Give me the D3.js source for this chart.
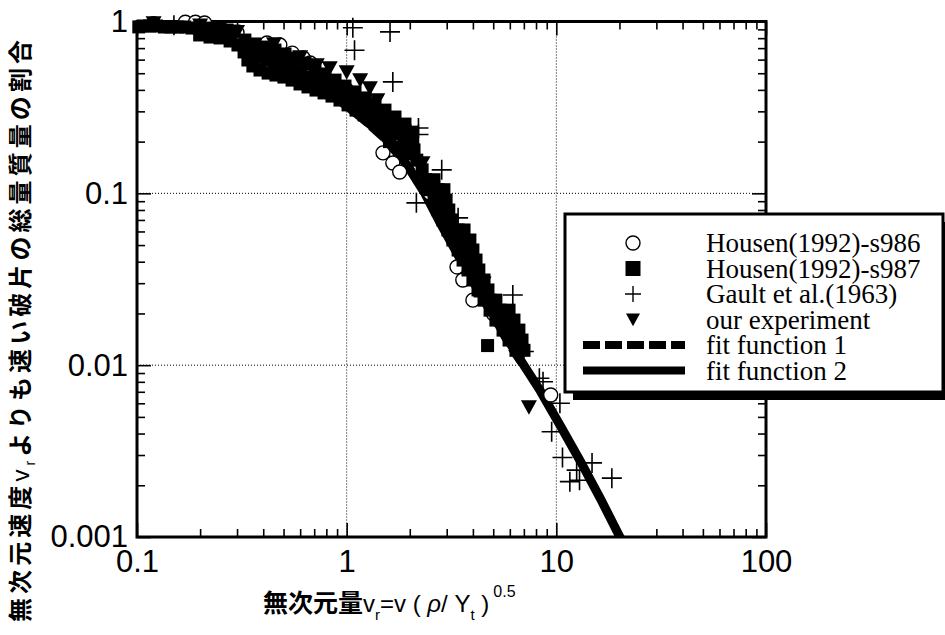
<!DOCTYPE html>
<html>
<head>
<meta charset="utf-8">
<script src="https://cdn.jsdelivr.net/npm/d3@7"></script>
<style>
body { margin: 0; background: #fff; }
</style>
</head>
<body>
<div id="chart"></div>
<script>
//-----------------------------DATA-----------------------------//
// [v_r, fraction of mass faster than v_r]
const housen986 = [
    [0.17,0.99],[0.19,0.99],[0.21,0.98],[0.12,0.97],[0.3,0.86],
    [0.417,0.75],[0.48,0.73],[0.55,0.655],[0.62,0.613],[0.67,0.573],[0.75,0.53],
    [1.0,0.40],[1.49,0.172],[1.66,0.150],[1.79,0.133],[2.5,0.10],
    [3.36,0.0373],[3.58,0.0313],[4.0,0.0239],[5.0,0.020],[9.4,0.0067]
];
const housen987 = [
    [0.102,0.93],[0.107,0.942],[0.115,0.942],[0.124,0.942],[0.135,0.929],[0.145,0.929],[0.157,0.929],
    [0.169,0.929],[0.183,0.916],[0.198,0.916],[0.213,0.916],[0.230,0.904],[0.249,0.904],[0.269,0.892],[0.290,0.880],
    [0.199,0.835],[0.223,0.812],[0.249,0.802],[0.278,0.770],[0.303,0.730],[0.324,0.665],[0.338,0.597],
    [0.357,0.551],[0.386,0.522],[0.422,0.501],[0.460,0.488],[0.502,0.475],
    [0.345,0.656],[0.377,0.621],[0.413,0.597],[0.450,0.573],[0.492,0.558],[0.536,0.540],
    [0.327,0.780],[0.365,0.740],[0.408,0.710],[0.455,0.682],[0.508,0.647],[0.567,0.613],[0.633,0.573],
    [0.706,0.536],[0.788,0.495],[0.880,0.456],[0.982,0.421],[1.096,0.389],[1.223,0.359],[1.365,0.331],
    [1.523,0.305],[1.700,0.278],[1.897,0.253],[2.05,0.227],
    [0.6,0.51],[0.7,0.468],[0.8,0.433],[0.9,0.405],[1.0,0.374],[1.1,0.344],[1.25,0.314],[1.4,0.29],
    [1.55,0.267],[1.7,0.249],[1.9,0.231],
    [0.549,0.456],[0.599,0.433],[0.654,0.416],[0.714,0.399],[0.780,0.384],[0.851,0.368],[0.929,0.349],
    [1.015,0.327],[1.108,0.305],[1.210,0.286],[1.321,0.267],[1.442,0.250],[1.574,0.234],[1.719,0.221],
    [1.877,0.210],[2.05,0.199],[1.6,0.20],[1.8,0.185],[2.0,0.17],
    [2.05,0.204],[2.095,0.179],[2.16,0.156],[2.29,0.137],
    [2.39,0.120],[2.61,0.120],[2.50,0.105],[2.73,0.105],[2.91,0.105],
    [2.61,0.0914],[2.98,0.0914],[2.73,0.080],[3.07,0.080],[2.88,0.070],[3.18,0.070],
    [3.04,0.0612],[3.40,0.0612],[3.63,0.0612],[3.21,0.0535],[3.55,0.0535],[3.87,0.0535],
    [3.40,0.0468],[3.71,0.0468],[4.0,0.0468],[3.59,0.0409],[3.87,0.0409],[4.14,0.0409],
    [3.79,0.0358],[4.05,0.0358],[4.27,0.0358],[4.0,0.0313],[4.23,0.0313],[4.52,0.0313],
    [4.23,0.0274],[4.48,0.0274],[4.72,0.0274],[4.52,0.0239],[4.83,0.0239],[5.15,0.0239],
    [4.83,0.0209],[5.39,0.0209],[5.95,0.0209],[5.15,0.0183],[5.69,0.0183],[6.28,0.0183],
    [5.57,0.016],[6.07,0.016],[6.63,0.016],[5.95,0.014],[6.49,0.014],[6.86,0.014],
    [6.42,0.0122],[7.01,0.0122],
    [4.7,0.013]
];
const gault = [
    [0.15,0.95],[0.5,0.6],
    [1.07,0.92],[1.61,0.87],[1.09,0.68],[1.66,0.445],[2.2,0.24],[2.2,0.22],[2.84,0.137],
    [2.15,0.088],[3.4,0.072],[4.5,0.025],[6.2,0.0256],[7.0,0.012],[8.3,0.0084],[8.64,0.0080],
    [10.4,0.0060],[9.5,0.0041],[10.7,0.0029],[12.5,0.00245],[11.6,0.0021],[12.9,0.00214],
    [14.8,0.0027],[18.4,0.0022]
];
const ourExperiment = [
    [0.12,0.98],[0.2,0.95],[0.3,0.87],[0.45,0.74],[0.6,0.62],[0.72,0.558],[0.83,0.536],[1.0,0.508],
    [1.16,0.456],[1.29,0.41],[1.40,0.349],[1.49,0.293],[1.61,0.267],[1.74,0.240],[1.86,0.218],
    [2.0,0.199],[2.3,0.15],[2.8,0.09],[3.5,0.05],[4.5,0.03],[5.5,0.02],[6.5,0.015],[7.4,0.0057]
];
const fit1 = [
    [0.1,1.0],[0.2,0.93],[0.4,0.72],[0.7,0.46],[1.0,0.33],[1.5,0.21],[2.0,0.14],[2.5,0.09],
    [3.0,0.058],[4.0,0.031],[5.0,0.019],[6.0,0.013],[7.0,0.0098]
];
const fit2 = [
    [0.1,0.99],[0.144,0.967],[0.199,0.916],[0.277,0.823],[0.386,0.70],[0.536,0.551],[0.746,0.421],
    [1.03,0.314],[1.44,0.227],[1.90,0.152],[2.36,0.1],[2.78,0.068],[3.46,0.042],[4.31,0.0263],
    [5.35,0.0169],[6.68,0.0109],[8.4,0.00706],[10.4,0.00448],[13.0,0.00277],[16.2,0.00168],
    [20.1,0.001],[21.5,0.00088]
];

const xTickLabels = ["0.1", "1", "10", "100"];
const yTickLabels = ["0.001", "0.01", "0.1", "1"];
const legendLabels = ["Housen(1992)-s986", "Housen(1992)-s987", "Gault et al.(1963)",
    "our experiment", "fit function 1", "fit function 2"];

//----------------------------LAYOUT----------------------------//
const width = 945;
const height = 635;
const plot = {left: 137, right: 766, top: 21.5, bottom: 537};

const svg = d3.select("#chart").append("svg")
    .attr("width", width)
    .attr("height", height)
    .style("background", "#fff");

const x = d3.scaleLog().domain([0.1, 100]).range([plot.left, plot.right]);
const y = d3.scaleLog().domain([0.001, 1]).range([plot.bottom, plot.top]);

const isMajor = t => Math.abs(Math.log10(t) - Math.round(Math.log10(t))) < 1e-9;
const majorX = xTickLabels.map(Number);
const majorY = yTickLabels.map(Number);
const minorX = x.ticks().filter(t => !isMajor(t));
const minorY = y.ticks().filter(t => !isMajor(t));

//-----------------------------GRID-----------------------------//
svg.append("g").selectAll("line")
    .data(majorX.slice(1, -1))
    .join("line")
    .attr("x1", d => x(d)).attr("x2", d => x(d))
    .attr("y1", plot.top).attr("y2", plot.bottom)
    .attr("stroke", "#000").attr("stroke-width", 1).attr("stroke-dasharray", "1,2");
svg.append("g").selectAll("line")
    .data(majorY.slice(1, -1))
    .join("line")
    .attr("y1", d => y(d)).attr("y2", d => y(d))
    .attr("x1", plot.left).attr("x2", plot.right)
    .attr("stroke", "#000").attr("stroke-width", 1).attr("stroke-dasharray", "1,2");

//-----------------------------AXES-----------------------------//
function styleAxis(g) {
    g.select(".domain").remove();
    g.selectAll(".tick line").attr("stroke", "#000").attr("stroke-width", 1.6);
    g.selectAll("text")
        .attr("fill", "#000")
        .style("font-family", "'Liberation Sans', Arial, sans-serif")
        .style("font-size", "31px");
}
svg.append("g").attr("transform", `translate(0,${plot.bottom})`)
    .call(d3.axisBottom(x).tickValues(majorX).tickSize(-14).tickPadding(13)
        .tickFormat((d, i) => xTickLabels[i]))
    .call(styleAxis);
svg.append("g").attr("transform", `translate(0,${plot.bottom})`)
    .call(d3.axisBottom(x).tickValues(minorX).tickSize(-8).tickFormat(""))
    .call(styleAxis);
svg.append("g").attr("transform", `translate(0,${plot.top})`)
    .call(d3.axisTop(x).tickValues(majorX).tickSize(-14).tickFormat(""))
    .call(styleAxis);
svg.append("g").attr("transform", `translate(0,${plot.top})`)
    .call(d3.axisTop(x).tickValues(minorX).tickSize(-8).tickFormat(""))
    .call(styleAxis);
svg.append("g").attr("transform", `translate(${plot.left},0)`)
    .call(d3.axisLeft(y).tickValues(majorY).tickSize(-14).tickPadding(9)
        .tickFormat((d, i) => yTickLabels[i]))
    .call(styleAxis);
svg.append("g").attr("transform", `translate(${plot.left},0)`)
    .call(d3.axisLeft(y).tickValues(minorY).tickSize(-8).tickFormat(""))
    .call(styleAxis);
svg.append("g").attr("transform", `translate(${plot.right},0)`)
    .call(d3.axisRight(y).tickValues(majorY).tickSize(-14).tickFormat(""))
    .call(styleAxis);
svg.append("g").attr("transform", `translate(${plot.right},0)`)
    .call(d3.axisRight(y).tickValues(minorY).tickSize(-8).tickFormat(""))
    .call(styleAxis);

svg.append("rect")
    .attr("x", plot.left).attr("y", plot.top)
    .attr("width", plot.right - plot.left).attr("height", plot.bottom - plot.top)
    .attr("fill", "none").attr("stroke", "#000").attr("stroke-width", 3);

//----------------------------LINES-----------------------------//
svg.append("clipPath").attr("id", "plotClip")
    .append("rect")
    .attr("x", plot.left).attr("y", plot.top)
    .attr("width", plot.right - plot.left).attr("height", plot.bottom - plot.top);

const line = d3.line()
    .x(d => x(d[0]))
    .y(d => y(d[1]));

svg.append("path").datum(fit1)
    .attr("clip-path", "url(#plotClip)")
    .attr("d", line)
    .attr("fill", "none").attr("stroke", "#000")
    .attr("stroke-width", 8).attr("stroke-dasharray", "17,5");
svg.append("path").datum(fit2)
    .attr("clip-path", "url(#plotClip)")
    .attr("d", line)
    .attr("fill", "none").attr("stroke", "#000")
    .attr("stroke-width", 9);

//---------------------------MARKERS----------------------------//
const triPath = (cx, cy, s) => `M${cx - s},${cy - s * 0.85}L${cx + s},${cy - s * 0.85}L${cx},${cy + s * 0.95}Z`;
const plusPath = (cx, cy, s) => `M${cx - s},${cy}H${cx + s}M${cx},${cy - s}V${cy + s}`;

svg.append("g").selectAll("circle")
    .data(housen986)
    .join("circle")
    .attr("cx", d => x(d[0])).attr("cy", d => y(d[1]))
    .attr("r", 7)
    .attr("fill", "#fff").attr("stroke", "#000").attr("stroke-width", 1.4);

svg.append("g").selectAll("path")
    .data(ourExperiment)
    .join("path")
    .attr("d", d => triPath(x(d[0]), y(d[1]), 8))
    .attr("fill", "#000");

svg.append("g").selectAll("rect")
    .data(housen987)
    .join("rect")
    .attr("x", d => x(d[0]) - 6.5).attr("y", d => y(d[1]) - 6.5)
    .attr("width", 13).attr("height", 13)
    .attr("fill", "#000");

svg.append("g").selectAll("path")
    .data(gault)
    .join("path")
    .attr("d", d => plusPath(x(d[0]), y(d[1]), 10))
    .attr("fill", "none").attr("stroke", "#000").attr("stroke-width", 1.6);

//----------------------------LEGEND----------------------------//
const legend = {x: 565, y: 214, w: 378, h: 178, row0: 243, step: 25.5, sym: 633, text: 706};
svg.append("rect")
    .attr("x", legend.x + 8).attr("y", legend.y + 8)
    .attr("width", legend.w).attr("height", legend.h)
    .attr("fill", "#000");
svg.append("rect")
    .attr("x", legend.x).attr("y", legend.y)
    .attr("width", legend.w).attr("height", legend.h)
    .attr("fill", "#fff").attr("stroke", "#000").attr("stroke-width", 3);

const rowY = i => legend.row0 + i * legend.step;
svg.append("circle").attr("cx", legend.sym).attr("cy", rowY(0)).attr("r", 7)
    .attr("fill", "#fff").attr("stroke", "#000").attr("stroke-width", 1.4);
svg.append("rect").attr("x", legend.sym - 7.5).attr("y", rowY(1) - 7.5)
    .attr("width", 15).attr("height", 15).attr("fill", "#000");
svg.append("path").attr("d", plusPath(legend.sym, rowY(2), 8))
    .attr("stroke", "#000").attr("stroke-width", 1.4);
svg.append("path").attr("d", triPath(legend.sym, rowY(3), 7)).attr("fill", "#000");
svg.append("line").attr("x1", 583).attr("x2", 685).attr("y1", rowY(4)).attr("y2", rowY(4))
    .attr("stroke", "#000").attr("stroke-width", 8).attr("stroke-dasharray", "17,5");
svg.append("line").attr("x1", 583).attr("x2", 685).attr("y1", rowY(5)).attr("y2", rowY(5))
    .attr("stroke", "#000").attr("stroke-width", 8);

svg.append("g").selectAll("text")
    .data(legendLabels)
    .join("text")
    .attr("x", legend.text)
    .attr("y", (d, i) => rowY(i) + 9)
    .style("font-family", "'Liberation Serif', 'Times New Roman', serif")
    .style("font-size", "27px")
    .text(d => d);

//-------------------------AXIS TITLES--------------------------//
const xTitle = svg.append("text")
    .attr("x", 263).attr("y", 612)
    .style("font-family", "'Liberation Sans', 'Noto Sans CJK JP', sans-serif")
    .style("font-size", "24px");
xTitle.append("tspan").style("font-family", "'Noto Sans CJK JP'").style("font-weight", "bold")
    .style("font-size", "25px").text("無次元量");
xTitle.append("tspan").text("v");
xTitle.append("tspan").attr("dy", 8).style("font-size", "15px").text("r");
xTitle.append("tspan").attr("dy", -8).text("=v  (  ");
xTitle.append("tspan").style("font-style", "italic").text("ρ");
xTitle.append("tspan").text("/  Y");
xTitle.append("tspan").attr("dy", 8).style("font-size", "15px").text("t");
xTitle.append("tspan").attr("dy", -8).text(" )");
xTitle.append("tspan").attr("dy", -15).attr("dx", 4).style("font-size", "16px").text("0.5");

const yTitle = svg.append("text")
    .attr("transform", "translate(29,622) rotate(-90)")
    .attr("textLength", 582)
    .attr("lengthAdjust", "spacing")
    .style("font-family", "'Noto Sans CJK JP', sans-serif")
    .style("font-weight", "bold")
    .style("font-size", "24px");
yTitle.append("tspan").text("無次元速度");
yTitle.append("tspan").style("font-family", "'Liberation Sans'").style("font-weight", "normal").text("v");
yTitle.append("tspan").attr("dy", 6).style("font-family", "'Liberation Sans'").style("font-weight", "normal")
    .style("font-size", "14px").text("r");
yTitle.append("tspan").attr("dy", -6).text("よりも速い破片の総量質量の割合");
</script>
</body>
</html>
